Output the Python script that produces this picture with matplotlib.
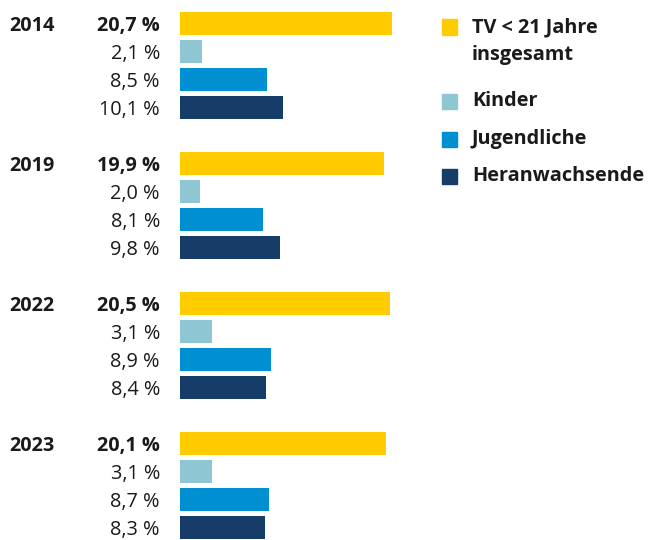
import numpy as np
import matplotlib.pyplot as plt
from matplotlib.patches import Rectangle

plt.rcParams['font.family'] = ['Open Sans', 'DejaVu Sans']

# data
years = ['2014', '2019', '2022', '2023']
series = ['TV < 21 Jahre\ninsgesamt', 'Kinder', 'Jugendliche', 'Heranwachsende']
total = [20.7, 19.9, 20.5, 20.1]
kinder = [2.1, 2.0, 3.1, 3.1]
jugendliche = [8.5, 8.1, 8.9, 8.7]
heranwachsende = [10.1, 9.8, 8.4, 8.3]
colors = ['#FFCC00', '#8EC6D3', '#008FD0', '#163C68']

values = [total, kinder, jugendliche, heranwachsende]

W, H = 656, 540
fig = plt.figure(figsize=(W / 100, H / 100), dpi=100)

# axes from x=180px, 10.24 px per percentage point
px_per_unit = 10.24
x0 = 180
xmax = 24
ax = fig.add_axes([x0 / W, 0, xmax * px_per_unit / W, 1])
ax.set_xlim(0, xmax)
row_px = 28
first_center = 23.5
ax.set_ylim((H - first_center) / row_px, -first_center / row_px)
ax.axis('off')

fs = 14.3
for g, year in enumerate(years):
    for s in range(4):
        y = g * 5 + s
        v = values[s][g]
        ax.barh(y, v, height=0.82, color=colors[s])
        lab = f'{v:.1f}'.replace('.', ',') + ' %'
        ax.text(-(x0 - 160) / px_per_unit, y + 0.1, lab, ha='right', va='center',
                fontsize=fs, fontweight='bold' if s == 0 else 'normal',
                color='#1a1a1a', clip_on=False)
    ax.text(-(x0 - 9) / px_per_unit, g * 5 + 0.1, year, ha='left', va='center',
            fontsize=fs, fontweight='bold', color='#1a1a1a', clip_on=False)

# legend drawn by hand
leg_y = [27, 101, 139, 176]
for s, name in enumerate(series):
    yc = leg_y[s]
    fig.patches.append(Rectangle((442 / W, 1 - (yc + 7.5) / H), 15 / W, 15 / H,
                                 transform=fig.transFigure, color=colors[s]))
    ty = yc + 14.5 if s == 0 else yc
    fig.text(472 / W, 1 - ty / H, name, ha='left', va='center',
             fontsize=fs, fontweight='bold', color='#1a1a1a', linespacing=1.5)

plt.savefig('out.png', dpi=100)
